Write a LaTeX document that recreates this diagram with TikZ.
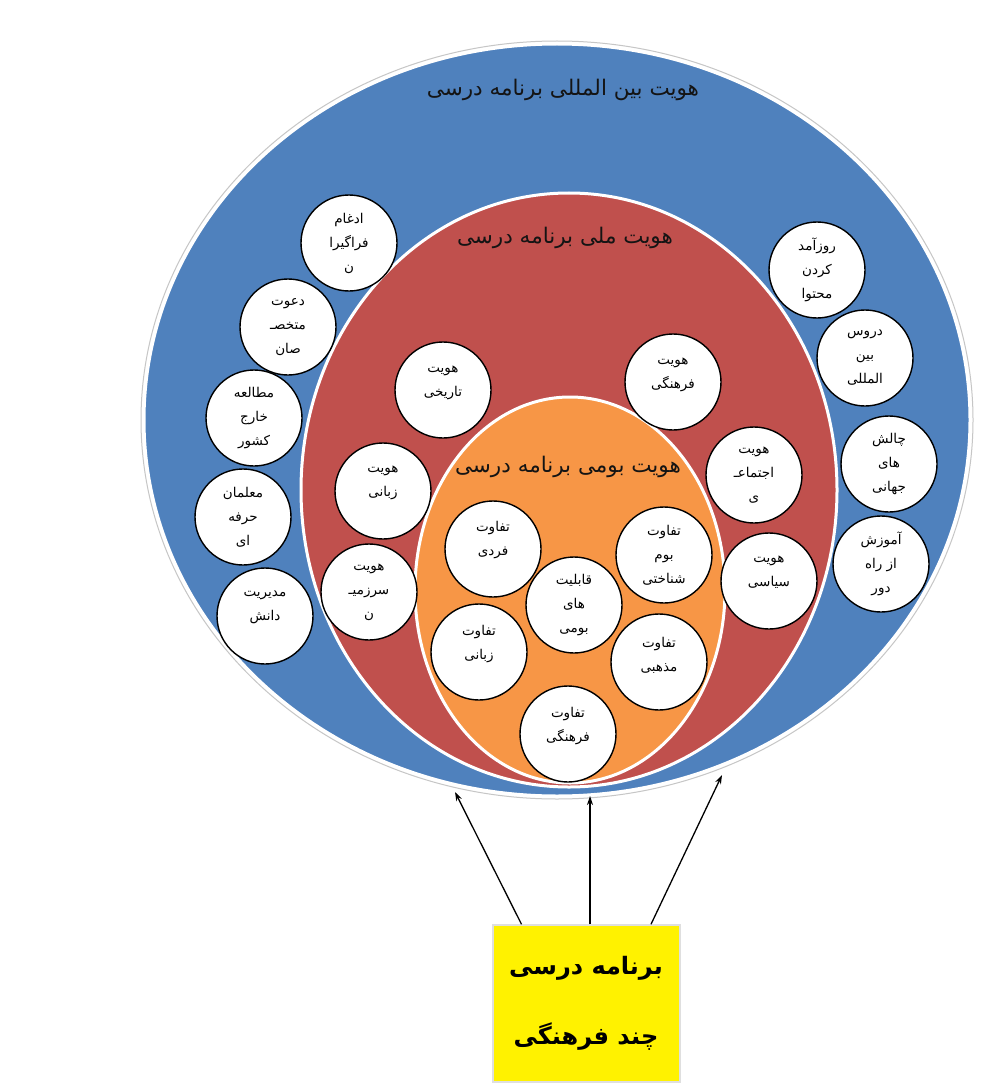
\documentclass[tikz,border=0pt]{standalone}
\usepackage{fontspec}
\usetikzlibrary{arrows.meta}
\newfontfamily\arabicfont[Script=Arabic]{DejaVu Sans}
\TeXXeTstate=1
\newcommand\prs[1]{\beginR #1\endR}
\definecolor{oblue}{HTML}{4F81BD}
\definecolor{ored}{HTML}{C0504D}
\definecolor{oorange}{HTML}{F79646}
\definecolor{titlecol}{HTML}{141414}
\newcommand\bubble[4]{\node[bub] (#1) at (#2) {}; \node[bubtext,yshift=#3] (#1t) at (#1) {#4};}
\begin{document}
\begin{tikzpicture}[x=1pt,y=-1pt,
  bub/.style={circle,draw=black,line width=1.4pt,fill=white,minimum size=96pt,inner sep=0pt},
  bubtext/.style={font=\arabicfont\fontsize{13.5}{24}\selectfont,align=center,inner sep=0pt,text=black},
  titletext/.style={font=\arabicfont\fontsize{21.5}{24}\selectfont,inner sep=0pt,text=titlecol},
  boxtext/.style={font=\arabicfont\bfseries\fontsize{24}{30}\selectfont,inner sep=0pt,text=black},
  ring/.style={draw=white,line width=3pt},
  arr/.style={draw=black,line width=1.3pt,-{Stealth[length=9pt,width=6pt]}}
]
\useasboundingbox[fill=white] (0,0) rectangle (990,1086);

% ellipses
\draw[gray!45,line width=1pt] (557,420) ellipse [x radius=416,y radius=379];
\draw[ring,fill=oblue] (557,420) ellipse [x radius=413,y radius=376];
\draw[ring,fill=ored] (569,490) ellipse [x radius=268,y radius=297];
\draw[ring,fill=oorange] (570,590) ellipse [x radius=155,y radius=193];

% titles
\node[titletext] (title1) at (563,90) {\prs{هویت بین المللی برنامه درسی}};
\node[titletext] (title2) at (565,238) {\prs{هویت ملی برنامه درسی}};
\node[titletext] (title3) at (568,467) {\prs{هویت بومی برنامه درسی}};

% blue ring bubbles
\bubble{b1}{349,243}{0pt}{\prs{ادغام}\\\prs{فراگیرا}\\\prs{ن}}
\bubble{b2}{288,327}{0pt}{\prs{دعوت}\\\prs{متخصـ}\\\prs{صان}}
\bubble{b3}{254,418}{0pt}{\prs{مطالعه}\\\prs{خارج}\\\prs{کشور}}
\bubble{b4}{243,517}{0pt}{\prs{معلمان}\\\prs{حرفه}\\\prs{ای}}
\bubble{b5}{265,616}{9pt}{\prs{مدیریت}\\\prs{دانش}}
\bubble{b6}{817,270}{0pt}{\prs{روزآمد}\\\prs{کردن}\\\prs{محتوا}}
\bubble{b7}{865,358}{0pt}{\prs{دروس}\\\prs{بین}\\\prs{المللی}}
\bubble{b8}{889,464}{0pt}{\prs{چالش}\\\prs{های}\\\prs{جهانی}}
\bubble{b9}{881,564}{0pt}{\prs{آموزش}\\\prs{از راه}\\\prs{دور}}

% red ring bubbles
\bubble{r1}{443,390}{7pt}{\prs{هویت}\\\prs{تاریخی}}
\bubble{r2}{673,382}{7pt}{\prs{هویت}\\\prs{فرهنگی}}
\bubble{r3}{383,491}{8pt}{\prs{هویت}\\\prs{زبانی}}
\bubble{r4}{369,592}{0pt}{\prs{هویت}\\\prs{سرزمیـ}\\\prs{ن}}
\bubble{r5}{754,475}{0pt}{\prs{هویت}\\\prs{اجتماعـ}\\\prs{ی}}
\bubble{r6}{769,581}{9pt}{\prs{هویت}\\\prs{سیاسی}}

% orange bubbles
\bubble{o1}{493,549}{9pt}{\prs{تفاوت}\\\prs{فردی}}
\bubble{o2}{664,555}{0pt}{\prs{تفاوت}\\\prs{بوم}\\\prs{شناختی}}
\bubble{o3}{574,605}{0pt}{\prs{قابلیت}\\\prs{های}\\\prs{بومی}}
\bubble{o4}{479,652}{8pt}{\prs{تفاوت}\\\prs{زبانی}}
\bubble{o5}{659,662}{7pt}{\prs{تفاوت}\\\prs{مذهبی}}
\bubble{o6}{568,734}{8pt}{\prs{تفاوت}\\\prs{فرهنگی}}

% yellow box
\node[draw=gray!25,line width=1.5pt,fill=yellow,minimum width=187pt,minimum height=157pt,inner sep=0pt] (box) at (586.5,1003.5) {};
\node[boxtext] (bt1) at (586,968) {\prs{برنامه درسی}};
\node[boxtext] (bt2) at (586,1037) {\prs{چند فرهنگی}};

% arrows
\coordinate (a1) at (455,792);
\coordinate (a2) at (590,796);
\coordinate (a3) at (722,775);
\draw[arr] ([xshift=-65pt]box.north) -- (a1);
\draw[arr] ([xshift=3.5pt]box.north) -- (a2);
\draw[arr] ([xshift=64.5pt]box.north) -- (a3);
\end{tikzpicture}
\end{document}
